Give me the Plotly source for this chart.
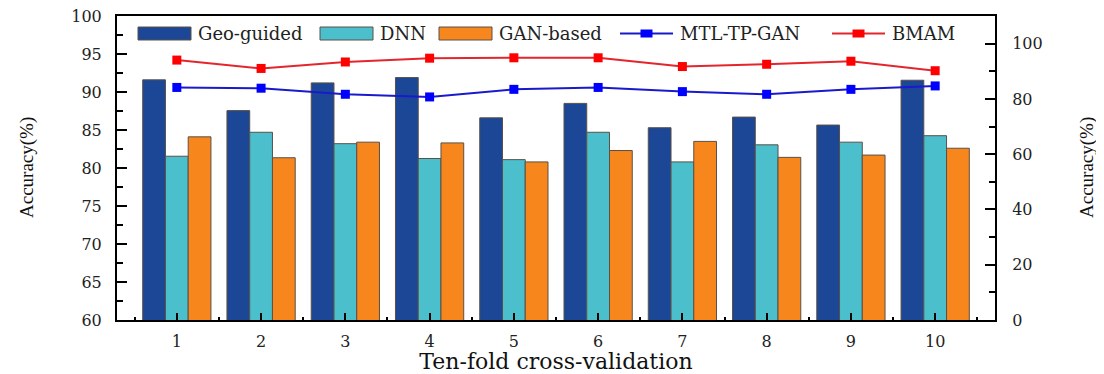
import plotly.graph_objects as go

folds = [1, 2, 3, 4, 5, 6, 7, 8, 9, 10]
fold_labels = ["1", "2", "3", "4", "5", "6", "7", "8", "9", "10"]
geo_guided = [91.6, 87.55, 91.2, 91.9, 86.6, 88.5, 85.3, 86.7, 85.65, 91.55]
dnn = [81.55, 84.7, 83.2, 81.25, 81.1, 84.7, 80.8, 83.05, 83.4, 84.25]
gan_based = [84.1, 81.35, 83.4, 83.3, 80.8, 82.3, 83.5, 81.4, 81.7, 82.6]
mtl_tp_gan = [90.6, 90.5, 89.7, 89.35, 90.35, 90.6, 90.05, 89.7, 90.35, 90.8]
bmam = [94.2, 93.1, 93.95, 94.45, 94.5, 94.5, 93.35, 93.65, 94.05, 92.8]

series_names = ["Geo-guided", "DNN", "GAN-based", "MTL-TP-GAN", "BMAM"]
left_ticks = [60, 65, 70, 75, 80, 85, 90, 95, 100]
right_ticks = [0, 20, 40, 60, 80, 100]

FONT = "DejaVu Serif"
BAR_COLORS = ["#1b4796", "#4bbfcc", "#f7861c"]
LINE_COLORS = ["#1a1acc", "#e3262d"]
MARKER_COLORS = ["#0000ff", "#ff0000"]
edge = dict(color="#5a5048", width=1)

# the page body adds an 8px offset, so the figure is 8px smaller than the window
OFF = 8
W, H = 1104 - OFF, 374 - OFF
L, R, T, B = 117 - OFF, 109, 16 - OFF, 54
PW, PH = W - L - R, H - T - B


def px(x):
    return (x - OFF - L) / PW


def py(y):
    return 1 - (y - OFF - T) / PH


fig = go.Figure()
for name, vals, col in zip(series_names[:3], [geo_guided, dnn, gan_based], BAR_COLORS):
    fig.add_trace(go.Bar(x=folds, y=vals, name=name, showlegend=False,
                         marker=dict(color=col, line=edge)))
for name, vals, lc, mc in zip(series_names[3:], [mtl_tp_gan, bmam], LINE_COLORS, MARKER_COLORS):
    fig.add_trace(go.Scatter(x=folds, y=vals, name=name, mode="lines+markers", showlegend=False,
                             line=dict(color=lc, width=2),
                             marker=dict(symbol="square", size=9, color=mc)))
# invisible carrier so the right axis is drawn
fig.add_trace(go.Scatter(x=[folds[0]], y=[right_ticks[0]], yaxis="y2", mode="markers",
                         marker=dict(opacity=0), showlegend=False, hoverinfo="skip"))

# legend drawn as shapes + text (wide swatches like the original)
shapes, annotations = [], []
sw_x = [138, 320, 439, 620, 832]
ly0, ly1, lyc = 27, 40, 33.5
for i, name in enumerate(series_names):
    x0 = sw_x[i]
    x1 = x0 + 53
    if i < 3:
        shapes.append(dict(type="rect", xref="paper", yref="paper",
                           x0=px(x0), x1=px(x1), y0=py(ly1), y1=py(ly0),
                           fillcolor=BAR_COLORS[i], line=edge))
    else:
        j = i - 3
        shapes.append(dict(type="line", xref="paper", yref="paper",
                           x0=px(x0), x1=px(x1), y0=py(lyc), y1=py(lyc),
                           line=dict(color=LINE_COLORS[j], width=2)))
        xm = (x0 + x1) / 2
        shapes.append(dict(type="rect", xref="paper", yref="paper",
                           x0=px(xm - 6), x1=px(xm + 6), y0=py(lyc + 4), y1=py(lyc - 4),
                           fillcolor=MARKER_COLORS[j], line=dict(width=0)))
    annotations.append(dict(text=name, xref="paper", yref="paper", x=px(x1 + 5), y=py(lyc),
                            xanchor="left", yanchor="middle", showarrow=False,
                            font=dict(family=FONT, size=18, color="#222")))

annotations.append(dict(text="Accuracy(%)", xref="paper", yref="paper", x=px(1087), y=py(168),
                        xanchor="center", yanchor="middle", textangle=-90, showarrow=False,
                        font=dict(family="Liberation Serif", size=19, color="#111")))
annotations.append(dict(text="Accuracy(%)", xref="paper", yref="paper", x=px(27), y=py(168),
                        xanchor="center", yanchor="middle", textangle=-90, showarrow=False,
                        font=dict(family="Liberation Serif", size=19, color="#111")))

fig.update_layout(
    width=W, height=H,
    margin=dict(l=L, r=R, t=T, b=B, autoexpand=False),
    paper_bgcolor="white", plot_bgcolor="white",
    barmode="group", bargap=0.19, bargroupgap=0,
    font=dict(family=FONT, size=16, color="#222"),
    showlegend=False,
    shapes=shapes, annotations=annotations,
    xaxis=dict(range=[0.29, 10.71], tickmode="array", tickvals=folds, ticktext=fold_labels,
               ticks="inside", ticklen=7, tickwidth=2, tickcolor="black",
               minor=dict(tickmode="linear", tick0=0.5, dtick=1, ticks="inside", ticklen=3,
                          tickwidth=2, tickcolor="black"),
               showline=True, linewidth=2, linecolor="black", mirror=True,
               showgrid=False, zeroline=False, ticklabelstandoff=6, automargin=False,
               tickfont=dict(family=FONT, size=16, color="#222"),
               title=dict(text="Ten-fold cross-validation", standoff=6,
                          font=dict(family=FONT, size=22, color="#111"))),
    yaxis=dict(range=[60, 100], tickmode="array", tickvals=left_ticks,
               ticks="inside", ticklen=10, tickwidth=2, tickcolor="black",
               minor=dict(tickmode="linear", tick0=62.5, dtick=5, ticks="inside", ticklen=6,
                          tickwidth=2, tickcolor="black"),
               showline=True, linewidth=2, linecolor="black",
               showgrid=False, zeroline=False, ticklabelstandoff=10, automargin=False,
               ticklabeloverflow="allow",
               tickfont=dict(family=FONT, size=16, color="#222")),
    yaxis2=dict(range=[0, 110], overlaying="y", side="right", tickmode="array",
                tickvals=right_ticks,
                ticks="inside", ticklen=10, tickwidth=2, tickcolor="black",
                minor=dict(tickmode="linear", tick0=10, dtick=20, ticks="inside", ticklen=6,
                           tickwidth=2, tickcolor="black"),
                showline=True, linewidth=2, linecolor="black",
                showgrid=False, zeroline=False, ticklabelstandoff=12, automargin=False,
                ticklabeloverflow="allow",
                tickfont=dict(family=FONT, size=16, color="#222")),
)

fig.write_html("out.html")
